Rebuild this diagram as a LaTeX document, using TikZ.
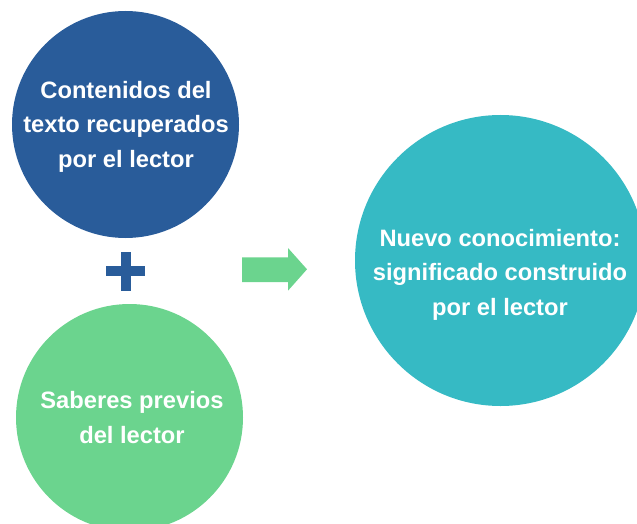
\documentclass[tikz,border=0pt]{standalone}
\usepackage{fontspec}
\setmainfont{Liberation Sans}
\definecolor{cblue}{RGB}{41,92,154}
\definecolor{cgreen}{RGB}{107,212,142}
\definecolor{cteal}{RGB}{54,186,196}
\tikzset{
  bubble/.style={circle, inner sep=0pt, draw=none},
  btext/.style={text=white, align=center, inner sep=0pt,
    font=\bfseries\fontsize{23.7}{34.5}\selectfont},
}
\begin{document}
\begin{tikzpicture}[x=1pt,y=-1pt]
\useasboundingbox (0,0) rectangle (637,524);
\clip (0,0) rectangle (637,524);
% circles
\node[bubble, fill=cblue, minimum size=227pt] (c1) at (125.5,124.5) {};
\node[bubble, fill=cgreen, minimum size=227pt] (c2) at (129.5,417.5) {};
\node[bubble, fill=cteal, minimum size=291pt] (c3) at (500.5,260.5) {};
% texts
\node[btext] (t1) at (126,126.5) {Contenidos del\\texto recuperados\\por el lector};
\node[btext] (t2) at (132,417.5) {Saberes previos\\del lector};
\node[btext] (t3) at (500,274.5) {Nuevo conocimiento:\\significado construido\\por el lector};
% plus sign
\fill[cblue] (106,266) rectangle (145,276);
\fill[cblue] (121,252) rectangle (131,291);
% arrow
\fill[cgreen] (242,257.3) -- (288,257.3) -- (288,248) -- (307,269.3) -- (288,290.7) -- (288,282) -- (242,282) -- cycle;
\end{tikzpicture}
\end{document}
